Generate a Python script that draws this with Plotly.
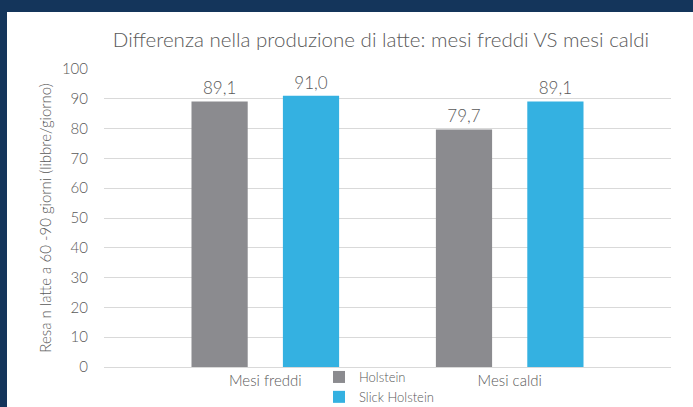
import plotly.graph_objects as go

categories = ["Mesi freddi", "Mesi caldi"]
holstein = [89.1, 79.7]
slick_holstein = [91.0, 89.1]
series_names = ["Holstein", "Slick Holstein"]
y_ticks = [0, 10, 20, 30, 40, 50, 60, 70, 80, 90, 100]

GRAY = "#8b8b8f"
BLUE = "#34b1e1"
TEXT = "#595959"
NAVY = "#14355b"
FONT = "Lato"
WT = 300

fig = go.Figure()
for name, vals, col in [(series_names[0], holstein, GRAY), (series_names[1], slick_holstein, BLUE)]:
    fig.add_trace(go.Bar(
        x=categories, y=vals, name=name, marker=dict(color=col, line=dict(width=0)),
        texttemplate="%{y:.1f}", textposition="outside", cliponaxis=False,
        textfont=dict(family=FONT, size=17, color=TEXT, weight=WT),
    ))

W, H = 693, 407
L, R, T, B = 104, 22, 69, 40
pw, ph = W - L - R, H - T - B

fig.update_layout(
    width=W, height=H,
    margin=dict(l=L, r=R, t=T, b=B, autoexpand=False),
    paper_bgcolor=NAVY, plot_bgcolor="white",
    separators=",.",
    barmode="group", bargap=0.252, bargroupgap=0.385,
    title=dict(text="Differenza nella produzione di latte: mesi freddi VS mesi caldi",
               font=dict(family=FONT, size=20.5, color=TEXT, weight=WT),
               x=(381) / W, xanchor="center", y=1 - 40 / H, yanchor="middle"),
    font=dict(family=FONT, color=TEXT, size=15, weight=WT),
    showlegend=True,
    legend=dict(orientation="v", x=(319 - L) / pw, xanchor="left", y=5 / ph, yanchor="top",
                bgcolor="rgba(0,0,0,0)", font=dict(family=FONT, size=13, color=TEXT, weight=WT),
                itemwidth=30, tracegroupgap=0, traceorder="normal"),
    xaxis=dict(type="category", range=[-0.66, 1.66], showgrid=False, showline=True,
               linecolor="#d9d9d9", linewidth=1, ticks="",
               tickfont=dict(family=FONT, size=15, color=TEXT, weight=WT),
               fixedrange=True),
    yaxis=dict(range=[0, 100], tickvals=y_ticks, showgrid=True, gridcolor="#d9d9d9", gridwidth=1,
               zeroline=False, showline=False, ticks="outside", ticklen=12,
               tickcolor="rgba(0,0,0,0)",
               tickfont=dict(family=FONT, size=15, color=TEXT, weight=WT),
               title=dict(text="Resa n latte a 60 -90 giorni (libbre/giorno)",
                          font=dict(family=FONT, size=15, color=TEXT, weight=WT), standoff=6),
               fixedrange=True),
    shapes=[
        dict(type="rect", xref="paper", yref="paper",
             x0=(7 - L) / pw, x1=1 + R / pw + 0.05, y0=-B / ph - 0.05, y1=1 + (T - 12) / ph,
             fillcolor="white", line=dict(width=0), layer="below"),
    ],
)

fig.write_html(
    "out.html", config={"displayModeBar": False},
    post_script=("document.documentElement.style.margin='0';document.body.style.margin='0';"
                 "document.body.style.padding='0';document.documentElement.style.overflow='hidden';"
                 "document.body.style.overflow='hidden';window.scrollTo(0,0);"),
)
